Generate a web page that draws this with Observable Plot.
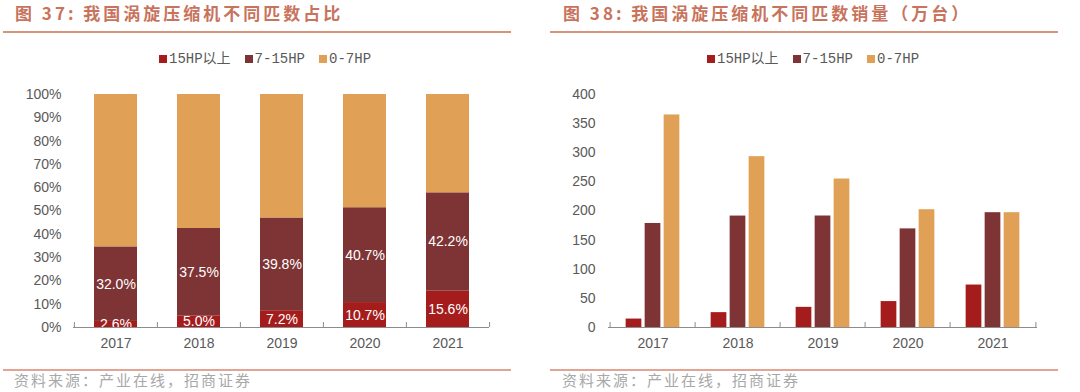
<!DOCTYPE html>
<html><head><meta charset="utf-8">
<script src="https://cdn.jsdelivr.net/npm/d3@7"></script>
<script src="https://cdn.jsdelivr.net/npm/@observablehq/plot@0.6"></script>
<style>
body{margin:0;background:#fff;}
#root{position:relative;width:1080px;height:392px;overflow:hidden;font-family:"Liberation Sans",Arial,sans-serif;}
.title{position:absolute;top:1px;font-family:"Noto Sans CJK SC";font-weight:700;font-size:17px;letter-spacing:3px;color:#c8735c;white-space:nowrap;line-height:24px;}
.hline{position:absolute;top:31px;height:2px;background:#d8937c;}
.fline{position:absolute;top:369px;height:1.5px;background:#e2a593;}
.src{position:absolute;top:370px;font-family:"Noto Sans CJK SC";font-size:15px;letter-spacing:2px;color:#a8a8a8;line-height:20px;white-space:nowrap;}
.legend{position:absolute;top:50px;display:flex;align-items:center;font-family:"Liberation Mono","Noto Sans CJK SC";font-size:14px;color:#595959;line-height:18px;white-space:nowrap;}
.legend .sw{display:inline-block;width:8px;height:8px;margin-right:2px;}
.legend .item{display:flex;align-items:center;margin-right:14px;}
.chart{position:absolute;top:70px;}
</style></head>
<body><div id="root"></div>
<script>
const years = ["2017", "2018", "2019", "2020", "2021"];
const series = ["15HP以上", "7-15HP", "0-7HP"];
const colors = ["#a51c1c", "#7e3434", "#e0a156"];
// share of units (%)
const share15up = [2.6, 5.0, 7.2, 10.7, 15.6];
const share7to15 = [32.0, 37.5, 39.8, 40.7, 42.2];
const share0to7 = [65.4, 57.5, 53.0, 48.6, 42.2];
// sales (10k units)
const sales15up = [14.5, 25.5, 34.6, 44.5, 72.9];
const sales7to15 = [178.6, 191.3, 191.4, 169.3, 197.1];
const sales0to7 = [364.9, 293.3, 254.9, 202.2, 197.1];
const pctTicks = [0, 10, 20, 30, 40, 50, 60, 70, 80, 90, 100];
const salesTicks = [0, 50, 100, 150, 200, 250, 300, 350, 400];
const titleLeft = "图 37: 我国涡旋压缩机不同匹数占比";
const titleRight = "图 38: 我国涡旋压缩机不同匹数销量（万台）";
const sourceText = "资料来源：产业在线，招商证券";

const toRows = (arrs) => arrs.flatMap((arr, s) => arr.map((v, i) => ({year: years[i], series: series[s], value: v})));
const shareRows = toRows([share15up, share7to15, share0to7]);
const salesRows = toRows([sales15up, sales7to15, sales0to7]);

const root = document.getElementById("root");
function addDiv(cls, left, width, text) {
  const d = document.createElement("div");
  d.className = cls;
  d.style.left = left + "px";
  if (width != null) d.style.width = width + "px";
  if (text != null) d.textContent = text;
  root.appendChild(d);
  return d;
}
function addLegend(left) {
  const lg = addDiv("legend", left);
  series.forEach((s, k) => {
    const it = document.createElement("span");
    it.className = "item";
    const sw = document.createElement("span");
    sw.className = "sw";
    sw.style.background = colors[k];
    it.appendChild(sw);
    it.appendChild(document.createTextNode(s));
    lg.appendChild(it);
  });
}

addDiv("title", 15, null, titleLeft);
addDiv("title", 563, null, titleRight);
addDiv("hline", 3, 508);
addDiv("hline", 550, 508);
addDiv("fline", 3, 508);
addDiv("fline", 550, 508);
addDiv("src", 14, null, sourceText);
addDiv("src", 562, null, sourceText);
addLegend(159);
addLegend(707);

const W = 540, H = 290;
const axisColor = "#8c8c8c";
const baseStyle = {fontFamily: "Liberation Sans, Arial, sans-serif", fontSize: "14px", color: "#595959", background: "transparent", overflow: "visible"};

// Left: stacked percentages
const L = {ml: 73, mr: 51, mt: 24, mb: 33};
const stepL = (W - L.ml - L.mr) / years.length;
const innerHL = H - L.mt - L.mb;
const padL = 0.483;
const left = Plot.plot({
  width: W, height: H,
  marginLeft: L.ml, marginRight: L.mr, marginTop: L.mt, marginBottom: L.mb,
  style: baseStyle,
  x: {domain: years, type: "band", paddingInner: padL, paddingOuter: padL / 2, tickSize: 0, tickPadding: 11, label: null},
  y: {domain: [0, 100], ticks: pctTicks, tickFormat: d => d + "%", tickSize: 0, tickPadding: 12, label: null},
  color: {domain: series, range: colors},
  marks: [
    Plot.barY(shareRows, {x: "year", y: "value", fill: "series"}),
    Plot.text(shareRows, Plot.stackY({x: "year", y: "value", z: "series",
      text: d => d.series === series[2] ? null : d.value.toFixed(1) + "%",
      fill: "#fff", fontSize: 14})),
    Plot.ruleY([0], {stroke: axisColor}),
    Plot.tickX(years, {x: d => d, dx: -stepL / 2, insetTop: innerHL - 5, stroke: axisColor}),
    Plot.tickX(years.slice(-1), {x: d => d, dx: stepL / 2, insetTop: innerHL - 5, stroke: axisColor})
  ]
});
left.classList.add("chart");
left.style.left = "0px";
root.appendChild(left);

// Right: grouped sales
const R = {ml: 68, mr: 43, mt: 24, mb: 33};
const stepR = (W - R.ml - R.mr) / years.length;
const innerHR = H - R.mt - R.mb;
const barW = 16.5, barGap = 2.5;
const groupW = series.length * barW + (series.length - 1) * barGap;
const right = Plot.plot({
  width: W, height: H,
  marginLeft: R.ml, marginRight: R.mr, marginTop: R.mt, marginBottom: R.mb,
  style: baseStyle,
  x: {domain: years, type: "band", paddingInner: 0, paddingOuter: 0, tickSize: 0, tickPadding: 11, label: null},
  y: {domain: [0, 400], ticks: salesTicks, tickSize: 0, tickPadding: 13, label: null},
  color: {domain: series, range: colors},
  marks: [
    ...series.map((s, k) => {
      const off = (stepR - groupW) / 2 + k * (barW + barGap);
      return Plot.barY(salesRows.filter(d => d.series === s), {x: "year", y: "value", fill: "series",
        insetLeft: off, insetRight: stepR - off - barW});
    }),
    Plot.ruleY([0], {stroke: axisColor}),
    Plot.tickX(years, {x: d => d, dx: -stepR / 2, insetTop: innerHR - 5, stroke: axisColor}),
    Plot.tickX(years.slice(-1), {x: d => d, dx: stepR / 2, insetTop: innerHR - 5, stroke: axisColor})
  ]
});
right.classList.add("chart");
right.style.left = "540px";
root.appendChild(right);
</script>
</body></html>
